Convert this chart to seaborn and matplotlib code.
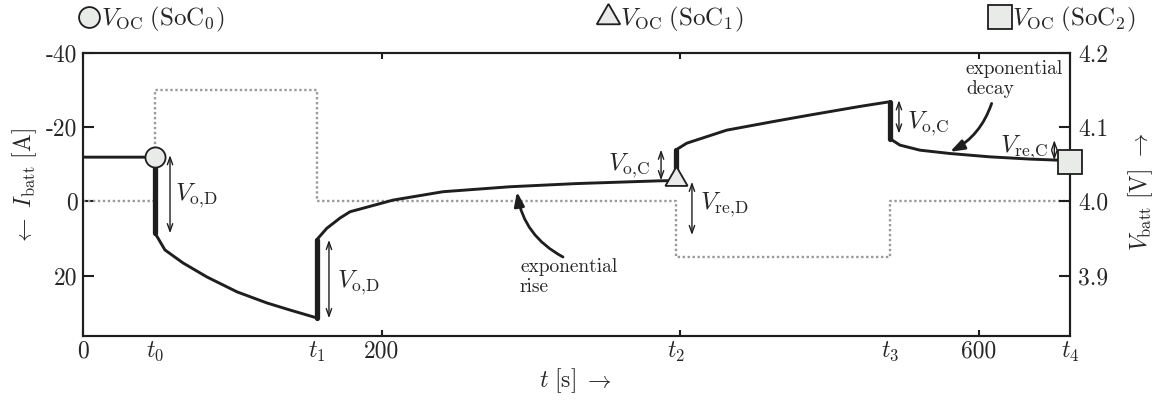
import matplotlib
matplotlib.use("Agg")
import numpy as np
import pandas as pd
import matplotlib.pyplot as plt
from matplotlib.lines import Line2D
import seaborn as sns

# ---------------------------------------------------------------- data
# time instants of the load steps [s]
t_events = [48.0, 156.5, 397.0, 540.7, 661.3]
event_labels = ["$t_0$", "$t_1$", "$t_2$", "$t_3$", "$t_4$"]

# battery current profile [A] (negative = discharge)
curr_time = [0, 48.0, 48.0, 156.5, 156.5, 397.0, 397.0, 540.7, 540.7, 661.3]
curr_amp = [0, 0, -30, -30, 0, 0, 15, 15, 0, 0]

# terminal voltage response [V]
volt_time = [0, 48.0, 48.0, 49.5, 54.9, 67.0, 83.1, 103.2, 123.3, 138.7,
             156.5, 156.5, 163.3, 172.2, 178.9, 207.7, 241.2, 286.1, 331.0,
             386.6, 397.0, 397.0, 404.5, 431.3, 464.7, 487.1, 520.6, 539.6,
             540.7, 540.7, 547.4, 560.8, 580.9, 607.7, 634.5, 652.4, 661.3]
volt_val = [4.0596, 4.0596, 3.957, 3.953, 3.9345, 3.917, 3.898, 3.878, 3.863,
            3.8535, 3.843, 3.948, 3.9636, 3.9775, 3.986, 4.0017, 4.013,
            4.0197, 4.024, 4.0277, 4.028, 4.069, 4.0784, 4.096, 4.1084,
            4.1164, 4.128, 4.134, 4.134, 4.0844, 4.0758, 4.069, 4.0645,
            4.060, 4.057, 4.0556, 4.0556]

# open-circuit voltage at the three states of charge
ocv_time = [48.0, 397.0, 661.3]
ocv_val = [4.0596, 4.030, 4.0537]
ocv_markers = ["o", (3, 0, 0), "s"]
ocv_sizes = [14.5, 18.5, 17]
ocv_labels = [r"$V_{\mathrm{OC}}\;(\mathrm{SoC}_0)$",
              r"$V_{\mathrm{OC}}\;(\mathrm{SoC}_1)$",
              r"$V_{\mathrm{OC}}\;(\mathrm{SoC}_2)$"]

# axis ticks
x_major = [0, 200, 400, 600]
x_major_labels = ["0", "200", "", "600"]
curr_ticks = [-40, -20, 0, 20]
curr_tick_labels = ["-40", "-20", "0", "20"]
volt_ticks = [3.9, 4.0, 4.1, 4.2]
volt_tick_labels = ["3.9", "4.0", "4.1", "4.2"]

df_curr = pd.DataFrame({"t": curr_time, "I": curr_amp})
df_volt = pd.DataFrame({"t": volt_time, "V": volt_val})

# ---------------------------------------------------------------- style
sns.set_theme(style="ticks")
plt.rcParams.update({
    "font.family": "serif",
    "font.serif": ["cmr10"],
    "mathtext.fontset": "cm",
    "axes.unicode_minus": False,
    "axes.formatter.use_mathtext": True,
    "axes.edgecolor": "#222222",
    "axes.linewidth": 1.5,
})

INK = "#1e1e1e"
FS = 17

W, H = 1166, 401
fig = plt.figure(figsize=(W / 100, H / 100), dpi=100)
ax = fig.add_axes([83 / W, 65 / H, (1070 - 83) / W, (336 - 53) / H])
ax2 = ax.twinx()

# current (left axis, inverted)
sns.lineplot(data=df_curr, x="t", y="I", ax=ax, estimator=None, sort=False,
             color="#9a9a9a", linewidth=1.7, linestyle=(0, (1, 1.1)))

# voltage (right axis)
sns.lineplot(data=df_volt, x="t", y="V", ax=ax2, estimator=None, sort=False,
             color=INK, linewidth=2.1)
# steep steps drawn heavier
for i in range(len(volt_time) - 1):
    if volt_time[i] == volt_time[i + 1]:
        seg = df_volt.iloc[i:i + 2]
        sns.lineplot(data=seg, x="t", y="V", ax=ax2, estimator=None,
                     sort=False, color=INK, linewidth=3.8)

for tt, vv, mk, ms in zip(ocv_time, ocv_val, ocv_markers, ocv_sizes):
    ax2.plot([tt], [vv], marker=mk, markersize=ms, markerfacecolor="#e9ebe9",
             markeredgecolor=INK, markeredgewidth=1.3, linestyle="none",
             clip_on=False, zorder=6)

# ---------------------------------------------------------------- axes
ax.set_xlim(0, t_events[-1])
ax.set_ylim(36.3, -40)
ax2.set_ylim(3.8185, 4.2)

ax.set_xticks(x_major)
ax.set_xticklabels(x_major_labels)
ax.set_xticks(t_events, minor=True)
ax.set_xticklabels(event_labels, minor=True)
ax.set_yticks(curr_ticks)
ax.set_yticklabels(curr_tick_labels)
ax2.set_yticks(volt_ticks)
ax2.set_yticklabels(volt_tick_labels)

ax.tick_params(axis="x", which="major", direction="in", length=4.5, width=1.5,
               top=True, labelsize=FS, pad=3, color=INK)
ax.tick_params(axis="x", which="minor", length=0, labelsize=FS, pad=3)
ax.tick_params(axis="y", which="major", direction="in", length=8, width=1.5,
               labelsize=FS, pad=4, color=INK)
ax2.tick_params(axis="y", which="major", direction="in", length=8, width=1.5,
                labelsize=FS, pad=6, color=INK)
ax.set_xlabel("")
ax.set_ylabel("")
ax2.set_ylabel("")
for a in (ax, ax2):
    for sp in a.spines.values():
        sp.set_linewidth(1.5)
        sp.set_color(INK)

fig.text(576 / W, 1 - 381 / H, r"$t\ [\mathrm{s}]\ \rightarrow$", fontsize=FS,
         ha="center", va="center")
fig.text(25 / W, 1 - 187 / H, r"$\leftarrow\ I_{\mathrm{batt}}\ [\mathrm{A}]$",
         fontsize=FS, rotation=90, ha="center", va="center")
fig.text(1141 / W, 1 - 192 / H, r"$V_{\mathrm{batt}}\ [\mathrm{V}]\ \rightarrow$",
         fontsize=FS, rotation=90, ha="center", va="center")

# ---------------------------------------------------------------- legend row
legend_marker_x = [89, 608, 1000]
for px, mk, ms, lab in zip(legend_marker_x, ocv_markers, [15, 19.5, 17],
                           ocv_labels):
    fig.add_artist(Line2D([px / W], [1 - 17 / H], marker=mk, markersize=ms,
                          markerfacecolor="#e9ebe9", markeredgecolor=INK,
                          markeredgewidth=1.3, linestyle="none"))
    fig.text((px + 12) / W, 1 - 25 / H, lab, fontsize=18, ha="left",
             va="baseline")

# ---------------------------------------------------------------- annotations
def span(t, v_a, v_b):
    ax2.annotate("", xy=(t, v_a), xytext=(t, v_b),
                 arrowprops=dict(arrowstyle="<->,head_length=0.45,head_width=0.16",
                                 lw=1.0, color=INK, shrinkA=0, shrinkB=0))

lab_oD = r"$V_{\mathrm{o},\!\mathrm{D}}$"
lab_oC = r"$V_{\mathrm{o},\!\mathrm{C}}$"
lab_reD = r"$V_{\mathrm{re},\!\mathrm{D}}$"
lab_reC = r"$V_{\mathrm{re},\!\mathrm{C}}$"

span(58.3, 4.0623, 3.957)
ax2.text(61.6, 4.002, lab_oD, fontsize=18, ha="left", va="baseline")
span(164.8, 3.948, 3.8425)
ax2.text(170.2, 3.8847, lab_oD, fontsize=18, ha="left", va="baseline")
span(387.3, 4.0697, 4.0285)
ax2.text(380.0, 4.042, lab_oC, fontsize=18, ha="right", va="baseline")
span(408.0, 4.0264, 3.9546)
ax2.text(413.4, 3.989, lab_reD, fontsize=18, ha="left", va="baseline")
span(546.7, 4.1363, 4.0914)
ax2.text(551.9, 4.0987, lab_oC, fontsize=18, ha="left", va="baseline")
span(650.8, 4.0825, 4.0556)
ax2.text(646.6, 4.0668, lab_reC, fontsize=18, ha="right", va="baseline")

ax2.text(292.8, 3.9237, "exponential\nrise", fontsize=14, ha="left", va="top",
         linespacing=1.15)
ax2.annotate("", xy=(290.8, 4.013), xytext=(321.6, 3.925),
             arrowprops=dict(arrowstyle="-|>,head_length=0.7,head_width=0.25",
                             lw=2.0, color=INK, shrinkA=0, shrinkB=0,
                             connectionstyle="arc3,rad=-0.25"))
ax2.text(591.6, 4.190, "exponential\ndecay", fontsize=14, ha="left", va="top",
         linespacing=1.15)
ax2.annotate("", xy=(580.9, 4.0668), xytext=(608.8, 4.132),
             arrowprops=dict(arrowstyle="-|>,head_length=0.7,head_width=0.25",
                             lw=2.0, color=INK, shrinkA=0, shrinkB=0,
                             connectionstyle="arc3,rad=-0.2"))

fig.savefig("out.png", dpi=100)
